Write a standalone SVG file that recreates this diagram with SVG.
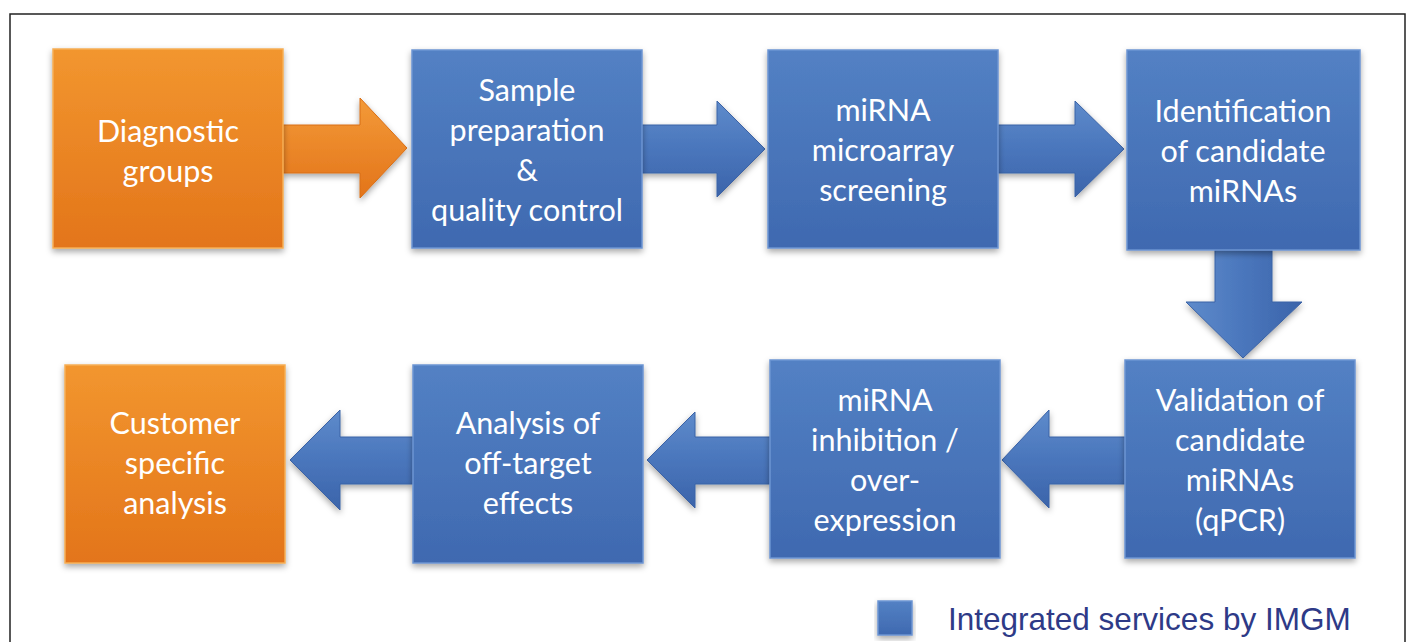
<svg xmlns="http://www.w3.org/2000/svg" width="1410" height="642" viewBox="0 0 1410 642">
<defs>
<linearGradient id="gBlue" x1="0" y1="0" x2="0" y2="1">
<stop offset="0" stop-color="#5381C4"/>
<stop offset="1" stop-color="#3F69B0"/>
</linearGradient>
<linearGradient id="gOrange" x1="0" y1="0" x2="0" y2="1">
<stop offset="0" stop-color="#F2962F"/>
<stop offset="1" stop-color="#E3751A"/>
</linearGradient>
<linearGradient id="gBlueArrow" x1="0" y1="0" x2="0" y2="1">
<stop offset="0" stop-color="#5E8BCB"/>
<stop offset="0.5" stop-color="#4A76BC"/>
<stop offset="1" stop-color="#3B64AA"/>
</linearGradient>
<linearGradient id="gBlueArrowV" x1="0" y1="0" x2="1" y2="0">
<stop offset="0" stop-color="#5E8BCB"/>
<stop offset="0.5" stop-color="#4A76BC"/>
<stop offset="1" stop-color="#3B64AA"/>
</linearGradient>
<linearGradient id="gOrangeArrow" x1="0" y1="0" x2="0" y2="1">
<stop offset="0" stop-color="#F39A38"/>
<stop offset="1" stop-color="#E3741A"/>
</linearGradient>
<filter id="shadow" x="-10%" y="-10%" width="120%" height="125%">
<feDropShadow dx="0" dy="3" stdDeviation="3" flood-color="#000" flood-opacity="0.35"/>
</filter>
</defs>
<style>
.box-b{fill:url(#gBlue);stroke:#6C95D2;stroke-width:1.5;filter:url(#shadow)}
.box-o{fill:url(#gOrange);stroke:#F6AE55;stroke-width:1.5;filter:url(#shadow)}
.arr-b{fill:url(#gBlueArrow);stroke:#3A62A6;stroke-width:1;filter:url(#shadow)}
.arr-v{fill:url(#gBlueArrowV);stroke:#3A62A6;stroke-width:1;filter:url(#shadow)}
.arr-o{fill:url(#gOrangeArrow);stroke:#D86E16;stroke-width:1;filter:url(#shadow)}
.t{font-family:Lato,"Open Sans","DejaVu Sans",sans-serif;font-size:30.5px;fill:#FFFFFF;text-anchor:middle}
.leg{font-family:"Liberation Sans",Arial,sans-serif;font-size:31.5px;fill:#2E3A87}
</style>
<rect x="0" y="0" width="1410" height="642" fill="#FFFFFF"/>
<path d="M10,642 V14 H1405 V642" fill="none" stroke="#222" stroke-width="1.5"/>

<g id="connectors">
<polygon class="arr-o" points="283,125 360,125 360,98 407,148 360,198 360,173 283,173"/>
<polygon class="arr-b" points="642,125 717,125 717,101 765,149 717,197 717,173 642,173"/>
<polygon class="arr-b" points="998,125 1075,125 1075,101 1124,149 1075,197 1075,173 998,173"/>
<polygon class="arr-v" points="1215,250 1272,250 1272,302 1302,302 1243,358 1186,302 1215,302"/>
<polygon class="arr-b" points="1125,437 1049,437 1049,410 1002,460 1049,508 1049,484 1125,484"/>
<polygon class="arr-b" points="770,437 695,437 695,412 647,460 695,508 695,484 770,484"/>
<polygon class="arr-b" points="413,437 340,437 340,410 290,460 340,510 340,484 413,484"/>
</g>

<g id="diagnostic-groups">
<rect class="box-o" x="53" y="49" width="230" height="199"/>
<text class="t" x="168" y="142">Diagnostic</text>
<text class="t" x="168" y="182">groups</text>
</g>

<g id="sample-preparation">
<rect class="box-b" x="412" y="50" width="230" height="198"/>
<text class="t" x="527" y="101">Sample</text>
<text class="t" x="527" y="141">preparation</text>
<text class="t" x="527" y="181">&amp;</text>
<text class="t" x="527" y="221">quality control</text>
</g>

<g id="microarray-screening">
<rect class="box-b" x="768" y="50" width="230" height="198"/>
<text class="t" x="883" y="121">miRNA</text>
<text class="t" x="883" y="161">microarray</text>
<text class="t" x="883" y="201">screening</text>
</g>

<g id="identification">
<rect class="box-b" x="1127" y="50" width="233" height="200"/>
<text class="t" x="1243" y="122">Identification</text>
<text class="t" x="1243" y="162">of candidate</text>
<text class="t" x="1243" y="202">miRNAs</text>
</g>

<g id="validation">
<rect class="box-b" x="1125" y="360" width="230" height="198"/>
<text class="t" x="1240" y="411">Validation of</text>
<text class="t" x="1240" y="451">candidate</text>
<text class="t" x="1240" y="491">miRNAs</text>
<text class="t" x="1240" y="531">(qPCR)</text>
</g>

<g id="inhibition">
<rect class="box-b" x="770" y="360" width="230" height="198"/>
<text class="t" x="885" y="411">miRNA</text>
<text class="t" x="885" y="451">inhibition /</text>
<text class="t" x="885" y="491">over-</text>
<text class="t" x="885" y="531">expression</text>
</g>

<g id="off-target">
<rect class="box-b" x="413" y="365" width="230" height="198"/>
<text class="t" x="528" y="434">Analysis of</text>
<text class="t" x="528" y="474">off-target</text>
<text class="t" x="528" y="514">effects</text>
</g>

<g id="customer-analysis">
<rect class="box-o" x="65" y="365" width="220" height="198"/>
<text class="t" x="175" y="434">Customer</text>
<text class="t" x="175" y="474">specific</text>
<text class="t" x="175" y="514">analysis</text>
</g>

<g id="legend">
<rect class="box-b" x="878" y="601" width="34" height="34"/>
<text class="leg" x="948" y="630">Integrated services by IMGM</text>
</g>
</svg>
